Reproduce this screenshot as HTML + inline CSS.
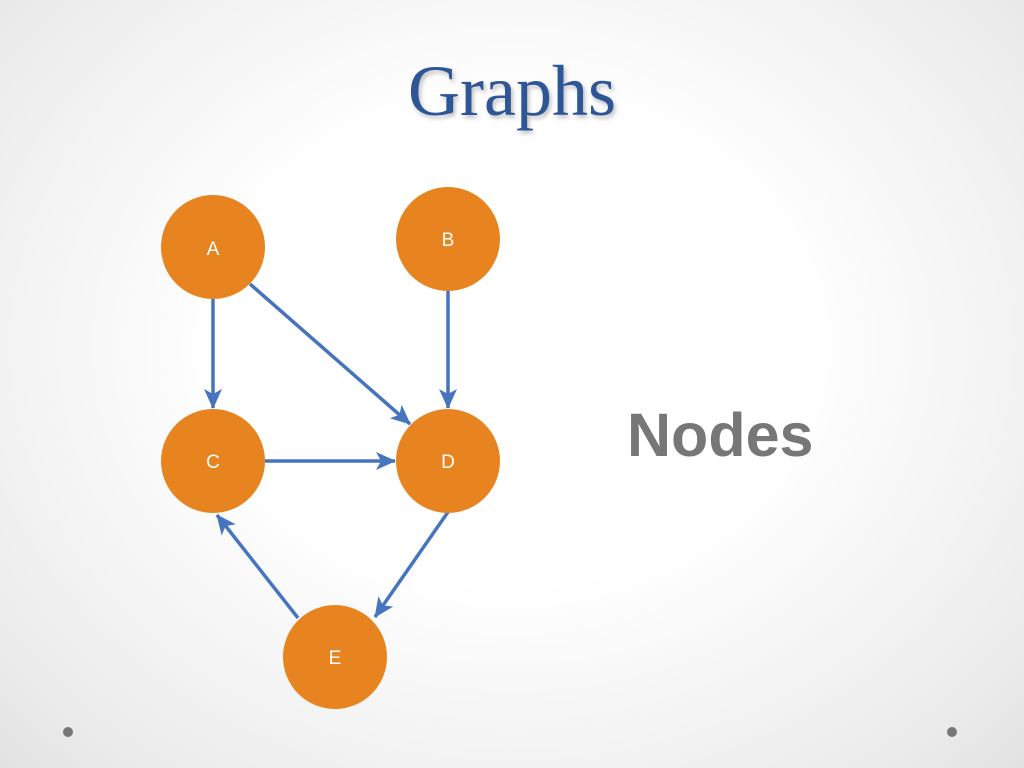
<!DOCTYPE html>
<html><head><style>
html,body{margin:0;padding:0}
body{width:1024px;height:768px;overflow:hidden;background:radial-gradient(ellipse at 50% 45%,#ffffff 40%,#ececec 85%,#e2e2e2 100%);position:relative;font-family:"Liberation Sans",sans-serif}
.t{position:absolute;left:0;width:1024px;top:50px;text-align:center;font-family:"Liberation Serif",serif;font-size:72px;color:#2e5596;text-shadow:2px 3px 4px rgba(0,0,0,0.25)}
.n{position:absolute;left:627px;top:400px;font-size:61px;font-weight:bold;color:#777}
</style></head><body>
<div class="t">Graphs</div>
<div class="n">Nodes</div>
<svg width="1024" height="768" style="position:absolute;left:0;top:0">
<defs><marker id="a" markerWidth="20" markerHeight="20" refX="19" refY="10" orient="auto" markerUnits="userSpaceOnUse" viewBox="0 0 20 20"><path d="M0,1 L20,10 L0,19 L5,10 Z" fill="#4675be"/></marker></defs>
<g stroke="#4675be" stroke-width="3.5" fill="none">
<line x1="213" y1="299" x2="213" y2="408" marker-end="url(#a)" />
<line x1="250" y1="284" x2="410" y2="424" marker-end="url(#a)" />
<line x1="448" y1="291" x2="448" y2="408" marker-end="url(#a)" />
<line x1="265" y1="461" x2="395" y2="461" marker-end="url(#a)" />
<line x1="448" y1="512" x2="375" y2="617" marker-end="url(#a)" />
<line x1="298" y1="618" x2="217" y2="515" marker-end="url(#a)" />
</g>
<g fill="#e8841f">
<circle cx="213" cy="247" r="52"/><circle cx="448" cy="239" r="52"/>
<circle cx="213" cy="461" r="52"/><circle cx="448" cy="461" r="52"/>
<circle cx="335" cy="657" r="52"/>
</g>
<g fill="#fff" font-family="Liberation Sans,sans-serif" font-size="19" text-anchor="middle">
<text x="213" y="255">A</text><text x="448" y="246">B</text>
<text x="213" y="468">C</text><text x="448" y="468">D</text><text x="335" y="664">E</text>
</g>
<circle cx="68" cy="732" r="5" fill="#777"/><circle cx="952" cy="732" r="5" fill="#777"/>
</svg>
</body></html>
